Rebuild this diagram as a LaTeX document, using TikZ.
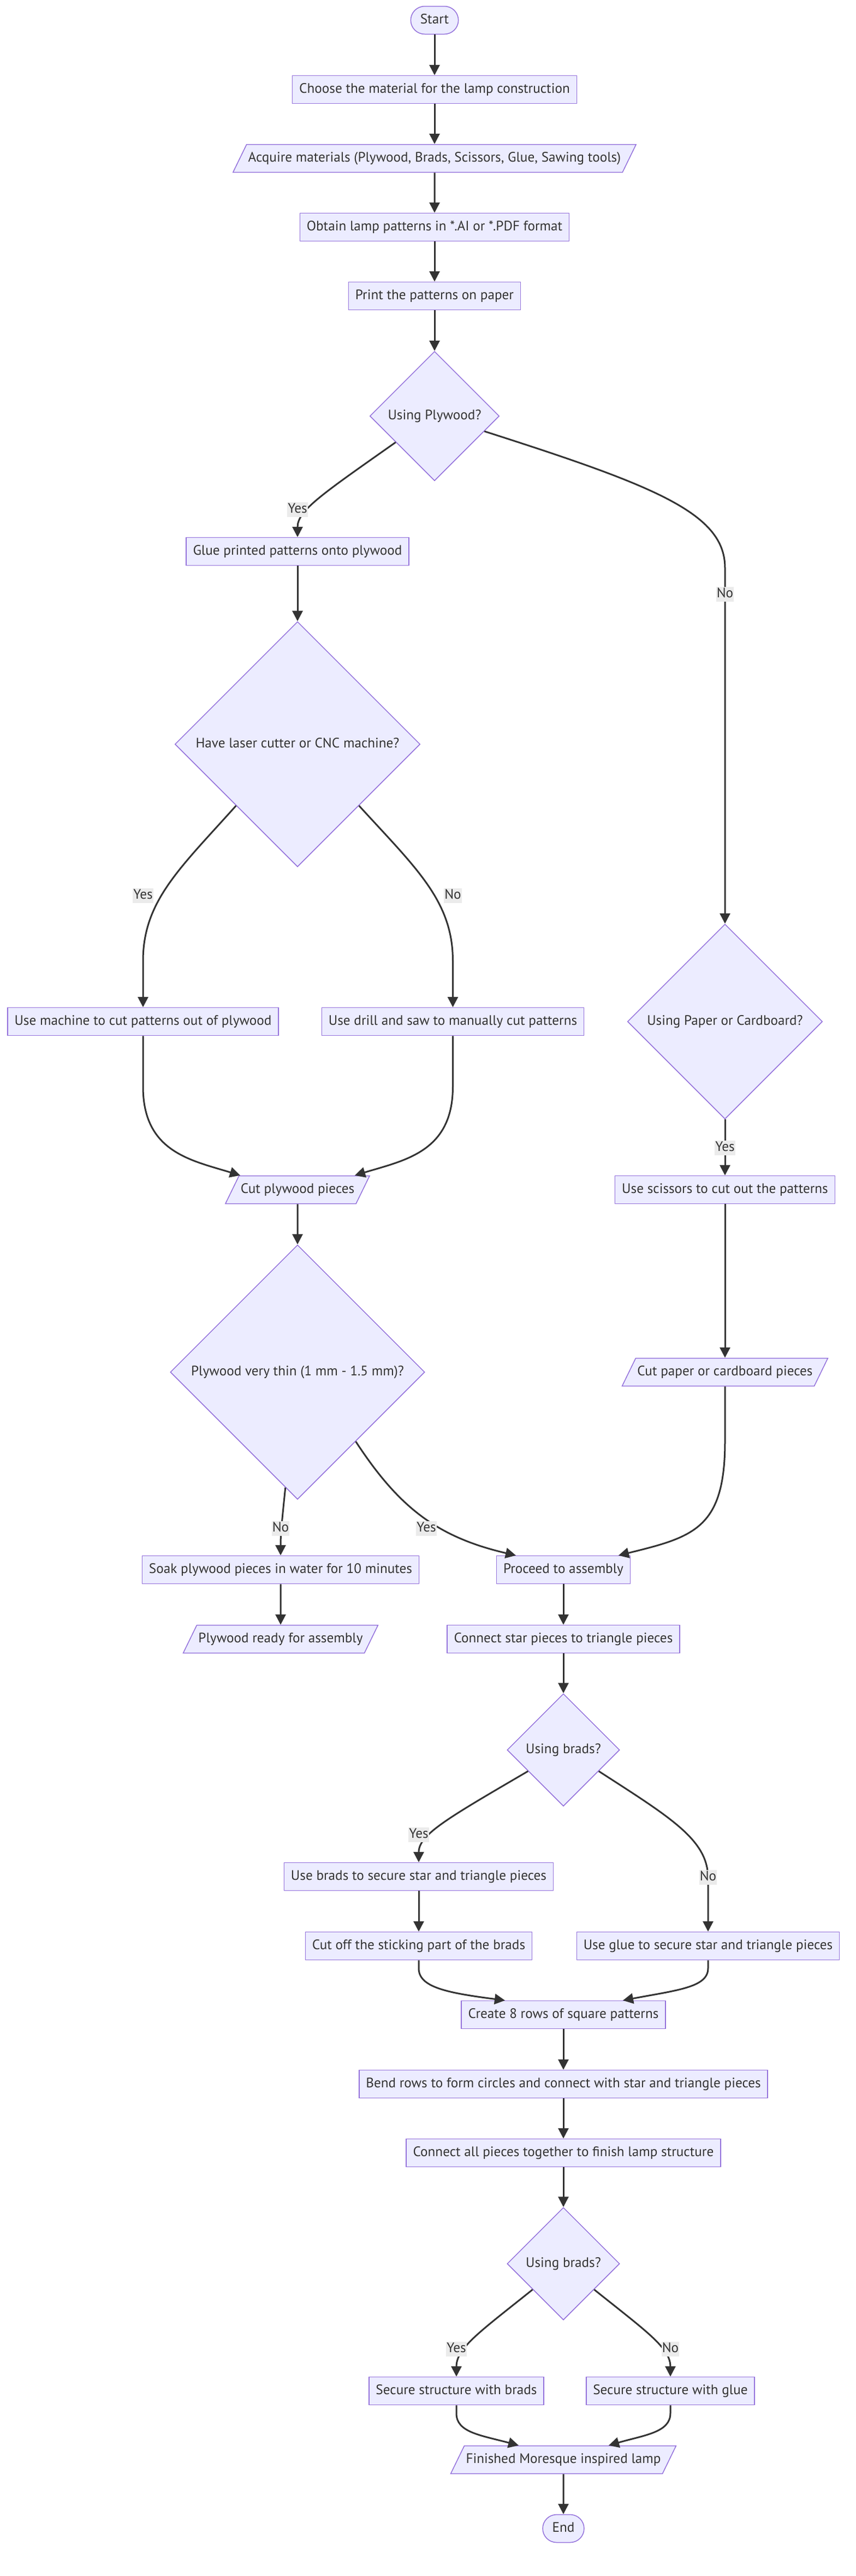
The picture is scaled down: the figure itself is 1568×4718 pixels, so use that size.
\documentclass[tikz,border=0pt]{standalone}
\usepackage{fontspec}
\setmainfont{PT Sans}
\usepackage{tikz}
\usetikzlibrary{arrows.meta}
\usetikzlibrary{shapes.geometric}

\definecolor{nodefill}{HTML}{ECECFF}
\definecolor{nodeline}{HTML}{9370DB}
\definecolor{ink}{HTML}{333333}
\definecolor{lblfill}{HTML}{EBEBEB}

\tikzset{
    base/.style={draw=nodeline, fill=nodefill, line width=0.75pt, text=ink,
        font=\fontsize{12.6}{14}\selectfont, text height=9pt, text depth=3pt, inner ysep=6.75pt},
    proc/.style={base, rectangle, inner xsep=6.25pt},
    io/.style={base, trapezium, trapezium left angle=64, trapezium right angle=116, inner xsep=1.5pt},
    term/.style={base, rectangle, rounded corners=12.75pt, inner xsep=8.75pt},
    choice/.style={base, diamond, inner sep=0pt, minimum width=#1, minimum height=#1},
    lbl/.style={fill=lblfill, text=ink, font=\fontsize{12.6}{14}\selectfont,
        text height=9pt, text depth=3pt, inner xsep=0.5pt, inner ysep=0.75pt},
    arr/.style={draw=ink, line width=1.5pt, -{Triangle[length=9.5pt,width=9.5pt]}}
}

\begin{document}
\begin{tikzpicture}[x=0.5pt, y=-0.5pt]
\useasboundingbox (0,0) rectangle (1568,4718);

\node[term] (start) at (796,37) {Start};
\node[proc] (choose) at (796,164) {Choose the material for the lamp construction};
\node[io] (acquire) at (796,290) {Acquire materials (Plywood, Brads, Scissors, Glue, Sawing tools)};
\node[proc] (obtain) at (796,416) {Obtain lamp patterns in *.AI or *.PDF format};
\node[proc] (print) at (796,542) {Print the patterns on paper};
\node[choice=118.5pt] (plywood) at (796,762) {Using Plywood?};
\node[proc] (glue) at (545,1010) {Glue printed patterns onto plywood};
\node[choice=224.5pt] (laser) at (545,1363) {Have laser cutter or CNC machine?};
\node[proc] (machine) at (262,1871) {Use machine to cut patterns out of plywood};
\node[proc] (drill) at (829.5,1871) {Use drill and saw to manually cut patterns};
\node[choice=178.5pt] (paper) at (1328,1871) {Using Paper or Cardboard?};
\node[io] (cutply) at (545,2179) {Cut plywood pieces};
\node[proc] (scissors) at (1328,2179) {Use scissors to cut out the patterns};
\node[choice=233pt] (thin) at (545,2513) {Plywood very thin (1 mm - 1.5 mm)?};
\node[io] (cutpaper) at (1328,2513) {Cut paper or cardboard pieces};
\node[proc] (soak) at (514,2875) {Soak plywood pieces in water for 10 minutes};
\node[proc] (proceed) at (1032,2875) {Proceed to assembly};
\node[io] (ready) at (514,3002) {Plywood ready for assembly};
\node[proc] (connect) at (1032,3002) {Connect star pieces to triangle pieces};
\node[choice=103pt] (bradsa) at (1032,3205) {Using brads?};
\node[proc] (usebrads) at (767,3437) {Use brads to secure star and triangle pieces};
\node[proc] (cutoff) at (767,3564) {Cut off the sticking part of the brads};
\node[proc] (useglue) at (1297,3564) {Use glue to secure star and triangle pieces};
\node[proc] (rows) at (1032,3690) {Create 8 rows of square patterns};
\node[proc] (bend) at (1032,3817) {Bend rows to form circles and connect with star and triangle pieces};
\node[proc] (connectall) at (1032,3943) {Connect all pieces together to finish lamp structure};
\node[choice=103pt] (bradsb) at (1032,4146) {Using brads?};
\node[proc] (securebrads) at (836,4379) {Secure structure with brads};
\node[proc] (secureglue) at (1228,4379) {Secure structure with glue};
\node[io] (finished) at (1032,4505) {Finished Moresque inspired lamp};
\node[term] (end) at (1032,4631) {End};

\draw[arr] (start) -- (choose);
\draw[arr] (choose) -- (acquire);
\draw[arr] (acquire) -- (obtain);
\draw[arr] (obtain) -- (print);
\draw[arr] (print) -- (plywood);
\draw[arr] (plywood.-146) .. controls (590,905) and (545,935) .. (glue.north);
\draw[arr] (plywood.-17) .. controls (1200,890) and (1328,940) .. (1328,1040) -- (paper.north);
\draw[arr] (glue) -- (laser);
\draw[arr] (laser.south west) .. controls (330,1590) and (262,1650) .. (262,1760) -- (machine.north);
\draw[arr] (laser.south east) .. controls (762,1590) and (829.5,1650) .. (829.5,1760) -- (drill.north);
\draw[arr] (machine.south) -- (262,1990) .. controls (262,2110) and (350,2125) .. ([xshift=-52.5pt]cutply.north);
\draw[arr] (drill.south) -- (829.5,1990) .. controls (829.5,2110) and (741,2125) .. ([xshift=52.5pt]cutply.north);
\draw[arr] (paper) -- (scissors);
\draw[arr] (scissors) -- (cutpaper);
\draw[arr] (cutply) -- (thin);
\draw[arr] (thin.-96) .. controls (516,2790) and (514,2810) .. (soak.north);
\draw[arr] (thin.-50) .. controls (730,2760) and (800,2815) .. ([xshift=-43.5pt]proceed.north);
\draw[arr] (cutpaper.south) -- (1328,2640) .. controls (1328,2800) and (1270,2815) .. ([xshift=50.5pt]proceed.north);
\draw[arr] (soak) -- (ready);
\draw[arr] (proceed) -- (connect);
\draw[arr] (connect) -- (bradsa);
\draw[arr] (bradsa.-149) .. controls (820,3330) and (767,3360) .. (usebrads.north);
\draw[arr] (bradsa.-31) .. controls (1230,3330) and (1297,3370) .. (1297,3440) -- (useglue.north);
\draw[arr] (usebrads) -- (cutoff);
\draw[arr] (cutoff.south) -- (767,3605) .. controls (767,3640) and (820,3650) .. ([xshift=-53.5pt]rows.north);
\draw[arr] (useglue.south) -- (1297,3605) .. controls (1297,3640) and (1240,3645) .. ([xshift=54.5pt]rows.north);
\draw[arr] (rows) -- (bend);
\draw[arr] (bend) -- (connectall);
\draw[arr] (connectall) -- (bradsb);
\draw[arr] (bradsb.-140) .. controls (880,4270) and (836,4300) .. (securebrads.north);
\draw[arr] (bradsb.-40) .. controls (1184,4270) and (1228,4300) .. (secureglue.north);
\draw[arr] (securebrads.south) -- (836,4420) .. controls (836,4455) and (880,4460) .. ([xshift=-41pt]finished.north);
\draw[arr] (secureglue.south) -- (1228,4420) .. controls (1228,4455) and (1180,4460) .. ([xshift=41.5pt]finished.north);
\draw[arr] (finished) -- (end);

\node[lbl] (l1) at (545,933) {Yes};
\node[lbl] (l2) at (1328,1088) {No};
\node[lbl] (l3) at (262,1640) {Yes};
\node[lbl] (l4) at (829.5,1640) {No};
\node[lbl] (l5) at (1328,2102) {Yes};
\node[lbl] (l6) at (514,2799) {No};
\node[lbl] (l7) at (781,2799) {Yes};
\node[lbl] (l8) at (767,3360) {Yes};
\node[lbl] (l9) at (1297,3438) {No};
\node[lbl] (l10) at (836,4302) {Yes};
\node[lbl] (l11) at (1228,4302) {No};
\end{tikzpicture}
\end{document}
